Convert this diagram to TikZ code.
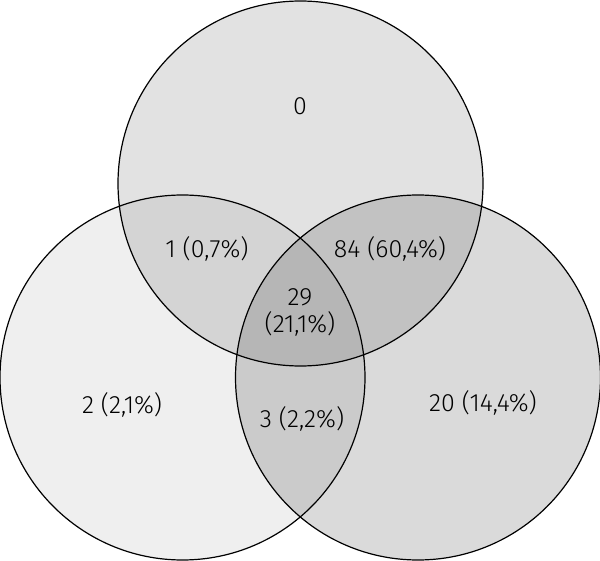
\documentclass[tikz,border=0pt]{standalone}
\usepackage{fontspec}
\setmainfont{Fira Sans Light}
\definecolor{cT}{RGB}{226,226,226}
\definecolor{cL}{RGB}{239,239,239}
\definecolor{cR}{RGB}{218,218,218}
\definecolor{cTL}{RGB}{212,212,212}
\definecolor{cTR}{RGB}{194,194,194}
\definecolor{cLR}{RGB}{203,203,203}
\definecolor{cTLR}{RGB}{182,182,182}
\begin{document}
\begin{tikzpicture}[x=1pt,y=-1pt,
  lbl/.style={font=\fontsize{25}{28}\selectfont, text=black, align=center, inner sep=0pt},
  ring/.style={draw=black, line width=1.2pt}]
\useasboundingbox (0,0) rectangle (600,561);
\def\rr{182.5}
\coordinate (cT) at (300.5,183.5);
\coordinate (cL) at (182.5,377.5);
\coordinate (cR) at (418,377.5);
\fill[cT] (cT) circle (\rr);
\fill[cL] (cL) circle (\rr);
\fill[cR] (cR) circle (\rr);
\begin{scope}
  \clip (cT) circle (\rr);
  \fill[cTL] (cL) circle (\rr);
  \fill[cTR] (cR) circle (\rr);
\end{scope}
\begin{scope}
  \clip (cL) circle (\rr);
  \fill[cLR] (cR) circle (\rr);
  \clip (cR) circle (\rr);
  \fill[cTLR] (cT) circle (\rr);
\end{scope}
\draw[ring] (cT) circle (\rr);
\draw[ring] (cL) circle (\rr);
\draw[ring] (cR) circle (\rr);
\node[lbl] (n0) at (300,106) {0};
\node[lbl] (n1) at (207,249) {1 (0,7\%)};
\node[lbl] (n84) at (390,249) {84 (60,4\%)};
\node[lbl] (n29) at (300,312) {29\\[-1pt](21,1\%)};
\node[lbl] (n2) at (122,405) {2 (2,1\%)};
\node[lbl] (n3) at (302,419) {3 (2,2\%)};
\node[lbl] (n20) at (483,403) {20 (14,4\%)};
\end{tikzpicture}
\end{document}
